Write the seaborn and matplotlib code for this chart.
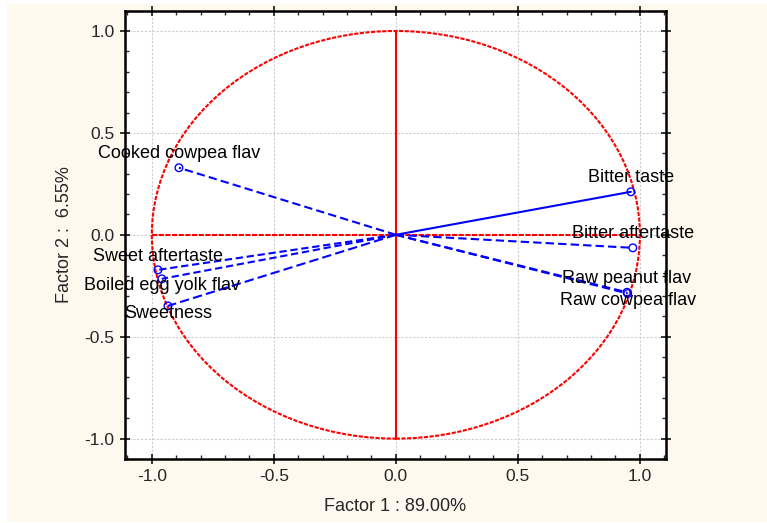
import numpy as np
import pandas as pd
import matplotlib
matplotlib.use("Agg")
import matplotlib.pyplot as plt
from matplotlib.patches import Rectangle, Circle
from matplotlib.ticker import MultipleLocator
import seaborn as sns

# ---- data ----
variables = ["Cooked cowpea flav", "Bitter taste", "Bitter aftertaste",
             "Raw peanut flav", "Raw cowpea flav", "Sweet aftertaste",
             "Boiled egg yolk flav", "Sweetness"]
factor1 = [-0.889, 0.963, 0.971, 0.947, 0.950, -0.975, -0.959, -0.934]
factor2 = [0.329, 0.211, -0.064, -0.282, -0.288, -0.172, -0.216, -0.349]
x_label = "Factor 1 : 89.00%"
y_label = "Factor 2 :  6.55%"
tick_values = [-1.0, -0.5, 0.0, 0.5, 1.0]

# styles (kept separate)
dash = (0, (4, 2))
line_styles = [dash, "-", dash, dash, dash, (0, (3.5, 1.8)), (0, (3.5, 1.8)), (0, (4.5, 2))]
label_offsets = [(0, 0.068), (0, 0.068), (0, 0.072), (0, 0.07), (0, -0.032),
                 (0, 0.066), (0, -0.032), (0, -0.036)]

sns.set_style("ticks")
plt.rcParams["font.family"] = ["Liberation Sans", "DejaVu Sans"]

fig = plt.figure(figsize=(7.67, 5.23), dpi=100)
fig.patch.set_facecolor("white")
fig.add_artist(Rectangle((7 / 767, 1.5 / 523), 1 - 7 / 767, 517.5 / 523,
                         transform=fig.transFigure, facecolor="#fdf9ee",
                         edgecolor="none", zorder=-10))

ax = fig.add_axes([125 / 767, 64 / 523, 541 / 767, 448 / 523])
ax.set_facecolor("white")

# unit circle and axis lines
ax.add_patch(Circle((0, 0), 1.0, fill=False, edgecolor="#ff0000", linewidth=1.5,
                    linestyle=(0, (2, 0.7)), zorder=2))
ax.plot([0, 0], [-1, 1], color="#ff0000", linewidth=1.5, zorder=2)
ax.plot([-1, 1], [0, 0], color="#ff0000", linewidth=1.5, linestyle=(0, (2.5, 0.7)), zorder=2)

df = pd.DataFrame({"var": variables, "f1": factor1, "f2": factor2})
for i, row in df.iterrows():
    seg = pd.DataFrame({"x": [0.0, row.f1], "y": [0.0, row.f2]})
    sns.lineplot(data=seg, x="x", y="y", sort=False, ax=ax, color="#0000ff",
                 linewidth=1.5, linestyle=line_styles[i], zorder=3)
sns.scatterplot(data=df, x="f1", y="f2", ax=ax, marker="o", s=30,
                facecolor="none", edgecolor="#0000ff", linewidth=1.0, zorder=4)

for i, row in df.iterrows():
    dx, dy = label_offsets[i]
    ax.text(row.f1 + dx, row.f2 + dy, row["var"], ha="center",
            va="center", fontsize=13, color="black", zorder=5)

ax.set_xlim(-1.11, 1.107)
ax.set_ylim(-1.1, 1.098)
ax.set_xticks(tick_values)
ax.set_yticks(tick_values)
ax.set_xticklabels([f"{v:.1f}" for v in tick_values])
ax.set_yticklabels([f"{v:.1f}" for v in tick_values])
ax.xaxis.set_minor_locator(MultipleLocator(0.1))
ax.yaxis.set_minor_locator(MultipleLocator(0.1))
ax.tick_params(which="major", direction="inout", length=7, width=1.3,
               top=True, right=True, labelsize=12.5, pad=4)
ax.tick_params(which="minor", direction="in", length=3, width=1.0,
               top=True, right=True)
ax.grid(True, which="major", color="#cccccc", linestyle=(0, (2, 1.5)), linewidth=0.8)
for s in ax.spines.values():
    s.set_linewidth(1.8)
    s.set_color("black")
ax.set_xlabel(x_label, fontsize=13, labelpad=10)
ax.set_ylabel(y_label, fontsize=13, labelpad=8)

fig.savefig("out.png", dpi=100, facecolor=fig.get_facecolor())
